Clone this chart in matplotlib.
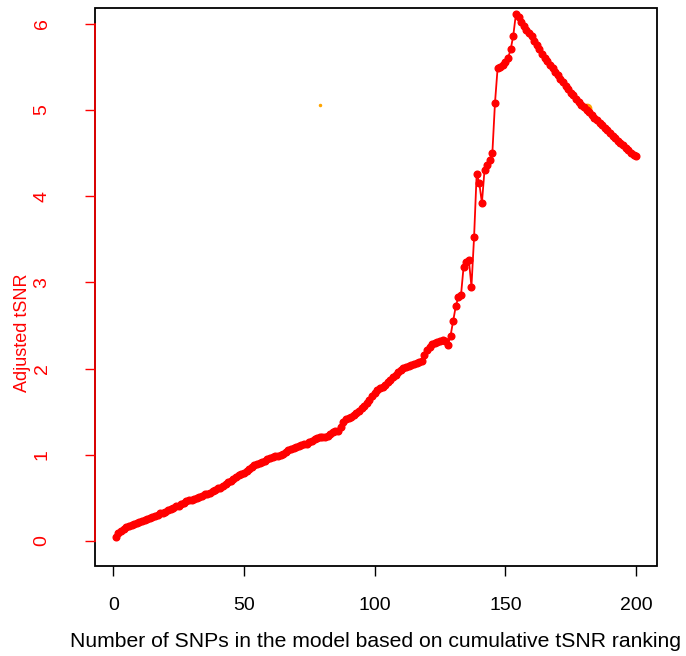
import matplotlib.pyplot as plt
import numpy as np

plt.rcParams['font.family'] = ['Liberation Sans', 'DejaVu Sans']

# number of SNPs in the model (1..200) and adjusted tSNR
n_snps = list(range(1, 201))
adj_tsnr = [
    0.05, 0.09, 0.12, 0.14, 0.16, 0.17, 0.18, 0.20, 0.21, 0.22,
    0.23, 0.24, 0.26, 0.27, 0.28, 0.29, 0.30, 0.32, 0.33, 0.34,
    0.36, 0.37, 0.38, 0.40, 0.41, 0.43, 0.44, 0.46, 0.47, 0.48,
    0.49, 0.50, 0.51, 0.52, 0.54, 0.55, 0.56, 0.58, 0.59, 0.61,
    0.62, 0.64, 0.66, 0.68, 0.70, 0.72, 0.74, 0.76, 0.78, 0.79,
    0.81, 0.84, 0.86, 0.88, 0.89, 0.91, 0.92, 0.93, 0.95, 0.96,
    0.97, 0.98, 0.99, 1.00, 1.01, 1.03, 1.05, 1.07, 1.08, 1.09,
    1.10, 1.11, 1.12, 1.13, 1.15, 1.16, 1.18, 1.19, 1.20, 1.20,
    1.21, 1.22, 1.24, 1.26, 1.27, 1.28, 1.32, 1.38, 1.42, 1.43,
    1.44, 1.46, 1.48, 1.51, 1.54, 1.57, 1.60, 1.64, 1.68, 1.72,
    1.75, 1.77, 1.79, 1.81, 1.84, 1.87, 1.90, 1.93, 1.96, 1.98,
    2.01, 2.02, 2.03, 2.04, 2.05, 2.06, 2.07, 2.09, 2.16, 2.21,
    2.25, 2.28, 2.30, 2.31, 2.32, 2.33, 2.32, 2.27, 2.38, 2.55,
    2.72, 2.83, 2.85, 3.18, 3.24, 3.26, 2.95, 3.52, 4.26, 4.15,
    3.92, 4.30, 4.36, 4.42, 4.50, 5.08, 5.48, 5.50, 5.52, 5.55,
    5.60, 5.70, 5.86, 6.11, 6.07, 6.02, 5.97, 5.93, 5.89, 5.85,
    5.80, 5.75, 5.70, 5.65, 5.60, 5.56, 5.52, 5.48, 5.44, 5.40,
    5.36, 5.32, 5.28, 5.24, 5.20, 5.17, 5.13, 5.09, 5.06, 5.03,
    5.00, 4.97, 4.94, 4.91, 4.88, 4.85, 4.82, 4.79, 4.76, 4.73,
    4.70, 4.67, 4.64, 4.61, 4.59, 4.56, 4.53, 4.50, 4.48, 4.46,
]

# two stray orange points
extra_x = [79, 181]
extra_y = [5.05, 5.02]

x_ticks = [0, 50, 100, 150, 200]
y_ticks = [0, 1, 2, 3, 4, 5, 6]

fig = plt.figure(figsize=(6.86, 6.56), dpi=100)
ax = fig.add_axes([95 / 686, 1 - 566 / 656, 562 / 686, 558 / 656])

ax.plot(extra_x[:1], extra_y[:1], 'o', color='#FFA500', markersize=1.5)
ax.plot(extra_x[1:], extra_y[1:], 'o', color='#FFA500', markersize=6)
ax.plot(n_snps, adj_tsnr, '-o', color='red', linewidth=1.3, markersize=4.8)

ax.set_xlim(-6.96, 207.96)
ax.set_ylim(-0.29, 6.18)
ax.set_xticks(x_ticks)
ax.set_yticks(y_ticks)

# black box, red left axis line between 0 and 6
ax.patch.set_edgecolor('black')
ax.patch.set_linewidth(1.3)
for s in ['top', 'right', 'bottom']:
    ax.spines[s].set_visible(False)
ax.spines['left'].set_color('red')
ax.spines['left'].set_bounds(0, 6)
ax.spines['left'].set_linewidth(1.2)

ax.tick_params(axis='x', direction='out', length=7, width=1, colors='black',
               labelsize=14, pad=15)
ax.tick_params(axis='y', direction='out', length=7, width=1, colors='red',
               labelsize=14, pad=25)
for lab in ax.get_yticklabels():
    lab.set_rotation(90)
    lab.set_verticalalignment('center')

ax.set_xlabel('Number of SNPs in the model based on cumulative tSNR ranking',
              fontsize=15.2)
ax.xaxis.set_label_coords(0.5, -0.118)
ax.set_ylabel('Adjusted tSNR', color='red', fontsize=13)
ax.yaxis.set_label_coords(-0.114, 0.418)

fig.savefig('out.png', dpi=100)
